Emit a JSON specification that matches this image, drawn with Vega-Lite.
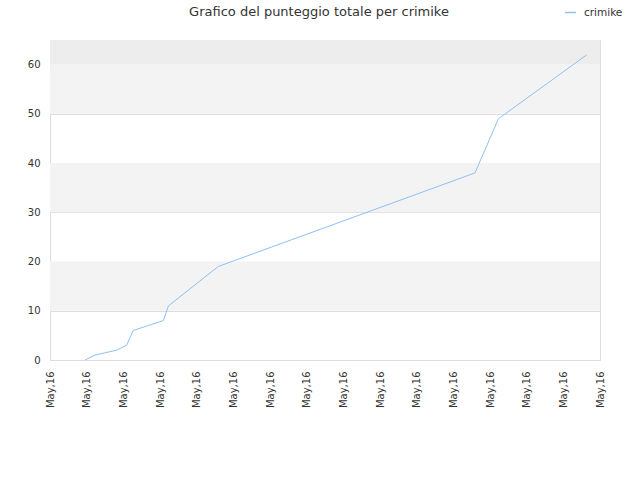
{
  "$schema": "https://vega.github.io/schema/vega-lite/v6.json",
  "autosize": {"type": "none"},
  "width": 550,
  "height": 320,
  "padding": {"left": 50, "top": 40, "right": 40, "bottom": 120},
  "background": "white",
  "config": {
    "font": "DejaVu Sans",
    "view": {"stroke": "#dddddd", "strokeWidth": 1}
  },
  "title": {
    "text": "Grafico del punteggio totale per crimike",
    "fontSize": 13,
    "fontWeight": "normal",
    "color": "#333333",
    "anchor": "middle",
    "dx": -6,
    "offset": 0,
    "dy": 13
  },
  "datasets": {
    "fasce": [
      {"da": 10, "a": 20, "tono": "chiaro"},
      {"da": 30, "a": 40, "tono": "chiaro"},
      {"da": 50, "a": 60, "tono": "chiaro"},
      {"da": 60, "a": 65, "tono": "scuro"}
    ],
    "punteggio": [
      {"giorno": 0.955, "punti": 0, "giocatore": "crimike"},
      {"giorno": 1.227, "punti": 1, "giocatore": "crimike"},
      {"giorno": 1.82, "punti": 2, "giocatore": "crimike"},
      {"giorno": 2.09, "punti": 3, "giocatore": "crimike"},
      {"giorno": 2.27, "punti": 6, "giocatore": "crimike"},
      {"giorno": 3.09, "punti": 8, "giocatore": "crimike"},
      {"giorno": 3.23, "punti": 11, "giocatore": "crimike"},
      {"giorno": 4.59, "punti": 19, "giocatore": "crimike"},
      {"giorno": 11.59, "punti": 38, "giocatore": "crimike"},
      {"giorno": 12.23, "punti": 49, "giocatore": "crimike"},
      {"giorno": 14.64, "punti": 62, "giocatore": "crimike"}
    ]
  },
  "resolve": {"scale": {"color": "independent"}},
  "layer": [
    {
      "data": {"name": "fasce"},
      "mark": {"type": "rect"},
      "encoding": {
        "y": {"field": "da", "type": "quantitative", "scale": {"domain": [0, 65], "nice": false}},
        "y2": {"field": "a"},
        "color": {
          "field": "tono",
          "type": "nominal",
          "scale": {"domain": ["chiaro", "scuro"], "range": ["#f3f3f3", "#ededed"]},
          "legend": null
        }
      }
    },
    {
      "data": {"name": "punteggio"},
      "mark": {"type": "line", "strokeWidth": 1, "interpolate": "linear"},
      "encoding": {
        "x": {
          "field": "giorno",
          "type": "quantitative",
          "scale": {"domain": [0, 15], "nice": false, "zero": false},
          "axis": {
            "title": null,
            "values": [0, 1, 2, 3, 4, 5, 6, 7, 8, 9, 10, 11, 12, 13, 14, 15],
            "labelExpr": "'May,16'",
            "labelAngle": -90,
            "labelFontSize": 10,
            "labelColor": "#333333",
            "labelPadding": 11,
            "labelFlush": false,
            "labelOverlap": false,
            "grid": false,
            "ticks": false,
            "domain": false
          }
        },
        "y": {
          "field": "punti",
          "type": "quantitative",
          "scale": {"domain": [0, 65], "nice": false},
          "axis": {
            "title": null,
            "values": [0, 10, 20, 30, 40, 50, 60],
            "labelFontSize": 10,
            "labelColor": "#333333",
            "labelPadding": 10,
            "gridColor": "#dddddd",
            "ticks": false,
            "domain": false
          }
        },
        "color": {
          "field": "giocatore",
          "type": "nominal",
          "scale": {"range": ["#90c0f4"]},
          "legend": {
            "title": null,
            "orient": "none",
            "legendX": 514,
            "legendY": -34,
            "symbolType": "stroke",
            "symbolSize": 120,
            "symbolStrokeWidth": 1.5,
            "labelOffset": 7,
            "labelFontSize": 10.5,
            "labelColor": "#333333"
          }
        }
      }
    }
  ]
}
